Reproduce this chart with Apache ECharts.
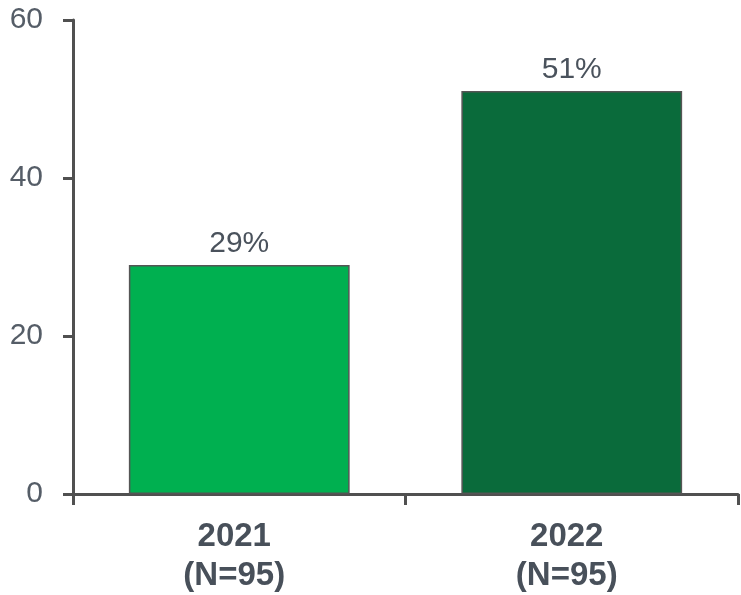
<!DOCTYPE html>
<html><head><meta charset="utf-8">
<script src="https://cdn.jsdelivr.net/npm/echarts@6/dist/echarts.min.js"></script>
<style>html,body{margin:0;padding:0;background:#fff}#c{width:741px;height:595px}</style>
</head><body><div id="c"></div>
<script>
const categories = ['2021\n(N=95)', '2022\n(N=95)'];
const values = [29, 51];
const barColors = ['#00B050', '#0A6B3B'];
const yTicks = [0, 20, 40, 60];

const chart = echarts.init(document.getElementById('c'), null, {renderer: 'canvas'});
chart.setOption({
  animation: false,
  grid: {left: 73, right: 3, top: 20, bottom: 100, containLabel: false},
  xAxis: {
    type: 'category', data: categories,
    axisLine: {lineStyle: {color: '#505050', width: 3}},
    axisTick: {show: true, length: 11, lineStyle: {color: '#505050', width: 3}},
    axisLabel: {color: '#48505a', fontFamily: 'Liberation Sans', fontWeight: 'bold', fontSize: 33, lineHeight: 39, margin: 23, padding: [0, 10, 0, 0]}
  },
  yAxis: {
    type: 'value', min: yTicks[0], max: yTicks[yTicks.length-1], interval: 20,
    axisLine: {show: true, lineStyle: {color: '#505050', width: 3}},
    axisTick: {show: true, length: 10, lineStyle: {color: '#505050', width: 3}},
    splitLine: {show: false},
    axisLabel: {color: '#555d67', fontFamily: 'Liberation Sans', fontSize: 30, margin: 30}
  },
  series: [{
    type: 'bar',
    barCategoryGap: '33.6%',
    data: values.map((v, i) => ({value: v, itemStyle: {color: barColors[i]}})),
    itemStyle: {borderColor: '#555', borderWidth: 1.5},
    label: {show: true, position: 'top', distance: 6, formatter: '{c}%', color: '#4a525c', fontFamily: 'Liberation Sans', fontSize: 30}
  }]
});
</script></body></html>
